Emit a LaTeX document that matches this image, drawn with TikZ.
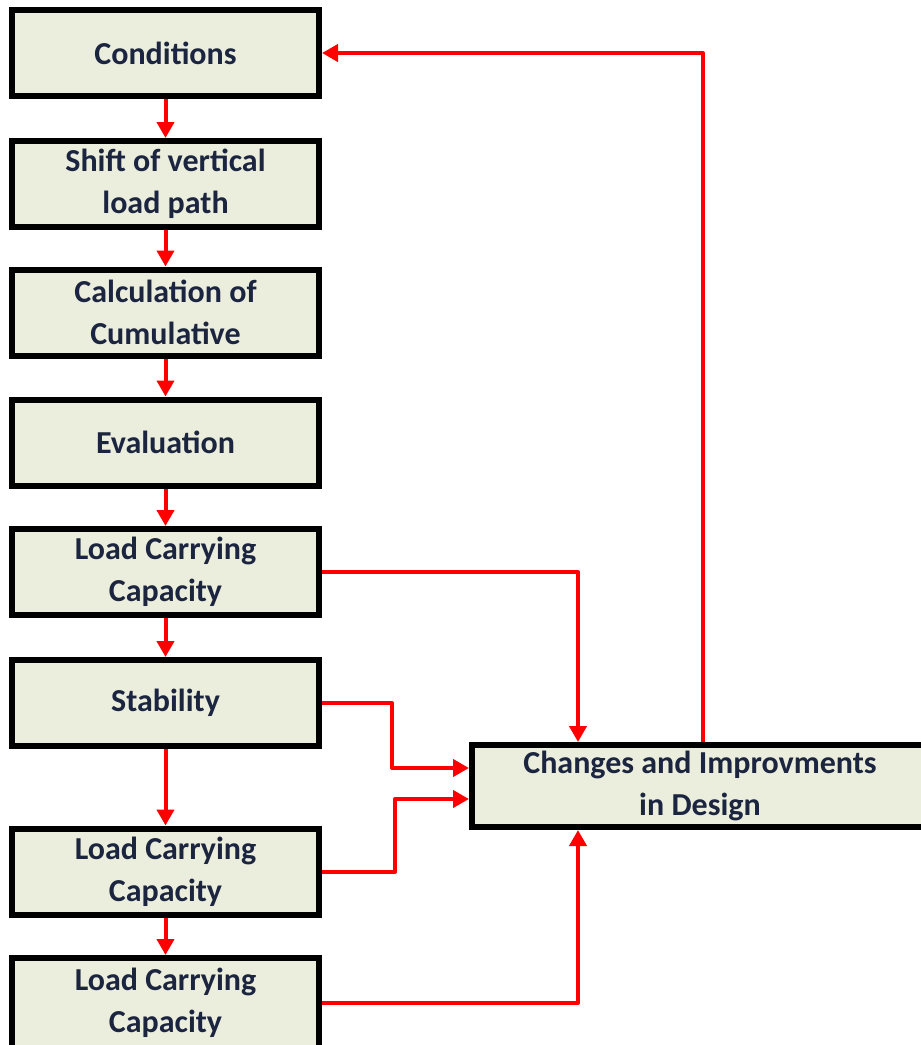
\documentclass[tikz,border=0pt]{standalone}
\usepackage{xcolor}
\usepackage{tikz}
\usepackage{fontspec}
\setmainfont{Carlito}
\usetikzlibrary{arrows.meta,positioning}
\definecolor{boxFill}{HTML}{EBEEDC}
\definecolor{boxText}{HTML}{1C2540}
\definecolor{flowRed}{HTML}{FF0000}
\tikzset{
  stagebox/.style={draw=black, fill=boxFill, line width=6pt,
        minimum width=307pt, minimum height=86pt, align=center,
        text=boxText, font=\fontsize{32}{42}\selectfont\bfseries,
        inner sep=2pt},
  designbox/.style={stagebox, minimum width=456pt, minimum height=82pt},
  rflow/.style={-{Triangle[length=16pt,width=17pt]}, line width=4pt,
        draw=flowRed, line join=round}
}
\begin{document}
\begin{tikzpicture}[x=1pt, y=-1pt]
\useasboundingbox (0,0) rectangle (921,1045);
\clip (0,0) rectangle (921,1045);

\node[stagebox] (cond)  at (165.5,53)    {Conditions};
\node[stagebox] (shift) at (165.5,184)   {Shift of vertical\\load path};
\node[stagebox] (calc)  at (165.5,312.5) {Calculation of\\Cumulative};
\node[stagebox] (eval)  at (165.5,442.5) {Evaluation};
\node[stagebox] (lcc1)  at (165.5,572)   {Load Carrying\\Capacity};
\node[stagebox] (stab)  at (165.5,703)   {Stability};
\node[stagebox] (lcc2)  at (165.5,871.5) {Load Carrying\\Capacity};
\node[stagebox, minimum height=90pt] (lcc3) at (165.5,1003) {Load Carrying\\Capacity};
\node[designbox] (design) at (700,786) {Changes and Improvments\\in Design};

% main chain
\draw[rflow] (cond) -- (shift);
\draw[rflow] (shift) -- (calc);
\draw[rflow] (calc) -- (eval);
\draw[rflow] (eval) -- (lcc1);
\draw[rflow] (lcc1) -- (stab);
\draw[rflow] (stab) -- (lcc2);
\draw[rflow] (lcc2) -- (lcc3);

% into the design box
\draw[rflow] (lcc1.east) -| ([xshift=109pt]design.north west);
\draw[rflow] (stab.east) -- ++(70,0) |- ([yshift=18pt]design.west);
\draw[rflow] (lcc2.east) -- ++(73,0) |- ([yshift=-13pt]design.west);
\draw[rflow] (lcc3.east) -| ([xshift=109pt]design.south west);

% feedback
\draw[rflow] ([xshift=3pt]design.north) |- (cond.east);
\end{tikzpicture}
\end{document}
